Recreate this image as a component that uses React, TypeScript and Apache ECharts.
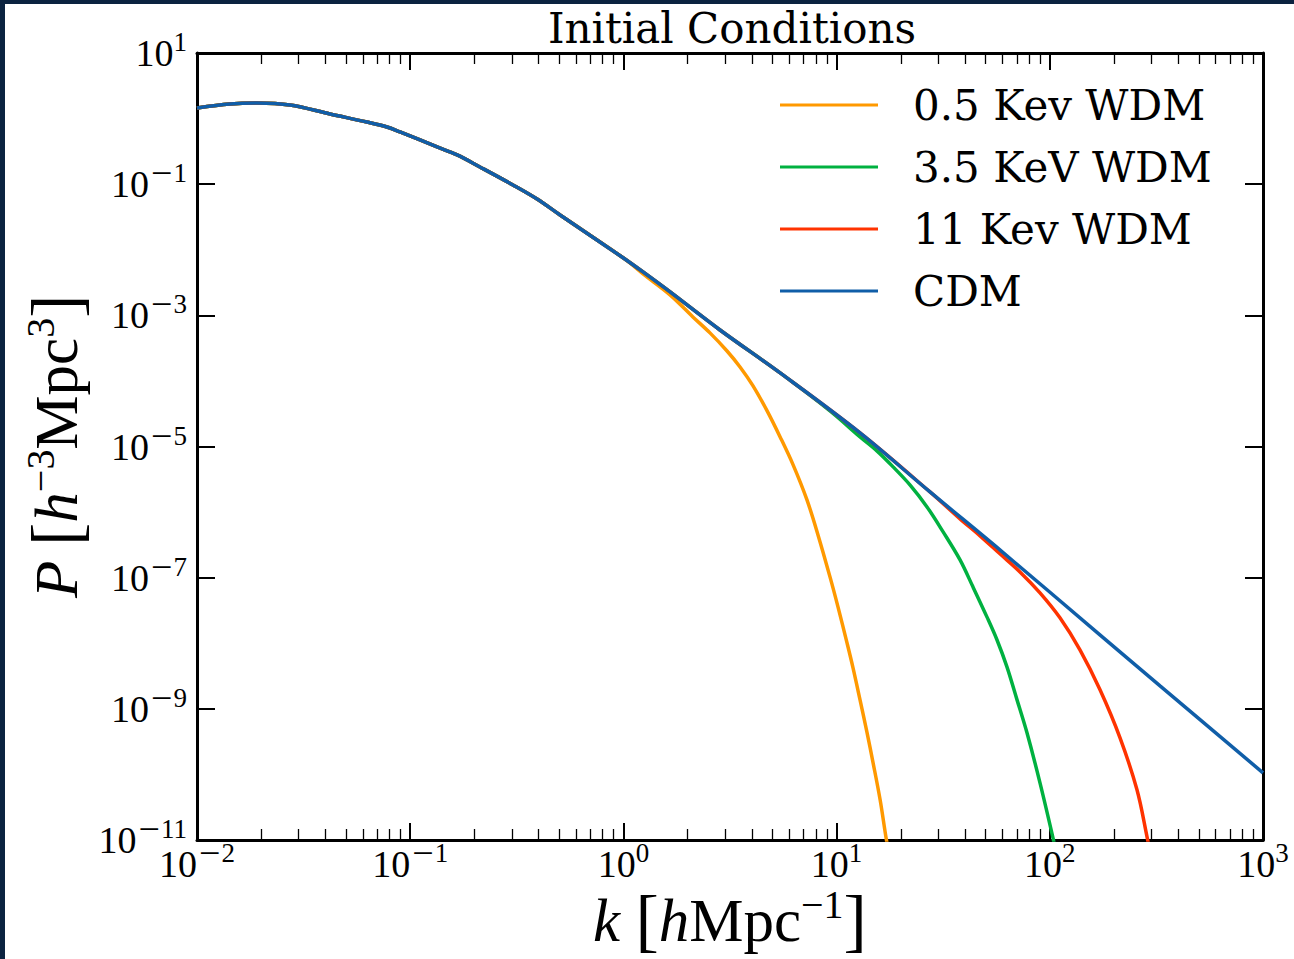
import React, { useEffect, useRef } from 'react';
import * as echarts from 'echarts';

// ---- data ----
const cdmK = [0.01, 0.01429, 0.0191, 0.02729, 0.04207, 0.06266, 0.0778, 0.08954, 0.1112, 0.1337, 0.166, 0.2123, 0.3034, 0.3936, 0.5047, 1.0, 1.236, 1.656, 2.838, 5.433, 12.88, 27.42, 58.34, 171.8, 328.9, 1000];
const cdmP = [1.452, 1.671, 1.73, 1.611, 1.175, 0.887, 0.745, 0.625, 0.472, 0.369, 0.279, 0.183, 0.0973, 0.0594, 0.0339, 0.0075, 4.59e-3, 0.002275, 5.98e-4, 1.324e-4, 1.611e-5, 2.03e-6, 2.655e-7, 1.343e-8, 2.244e-9, 1.057e-10];

const wdm05Split = 1.0;
const wdm05K = [1.236, 1.654, 2.118, 2.547, 3.062, 3.524, 4.055, 4.721, 5.433, 6.252, 7.261, 8.18, 9.311, 10.15, 11.19, 11.94, 12.88, 13.9, 14.83, 16.0, 17.06, 17.42];
const wdm05P = [4.28e-3, 2.05e-3, 9.46e-4, 5.4e-4, 2.86e-4, 1.633e-4, 8.39e-5, 3.49e-5, 1.4e-5, 5.25e-6, 1.535e-6, 4.49e-7, 1.028e-7, 3.59e-8, 1.014e-8, 4.22e-9, 1.371e-9, 4.31e-10, 1.503e-10, 4.1e-11, 1.081e-11, 7.6e-12];

const wdm35Split = 5.433;
const wdm35K = [9.31, 12.88, 15.45, 18.41, 22.08, 26.55, 31.6, 37.93, 43.6, 50.7, 56.5, 62.95, 70.2, 78.16, 89.95, 103.5, 105.7];
const wdm35P = [3.49e-5, 1.4e-5, 8.57e-6, 4.89e-6, 2.6e-6, 1.199e-6, 4.99e-7, 1.866e-7, 7.24e-8, 2.523e-8, 1.13e-8, 4.365e-9, 1.37e-9, 4.31e-10, 7.45e-11, 1.081e-11, 7.6e-12];

const wdm11Split = 27.42;
const wdm11K = [37.93, 47.07, 58.34, 72.47, 89.95, 111.6, 138.5, 172.0, 213.5, 256.4, 285.8, 291.7];
const wdm11P = [7.87e-7, 4.34e-7, 2.31e-7, 1.225e-7, 5.86e-8, 2.44e-8, 7.92e-9, 1.95e-9, 3.61e-10, 5.82e-11, 1.12e-11, 7.87e-12];

const seriesNames = ['0.5 Kev WDM', '3.5 KeV WDM', '11 Kev WDM', 'CDM'];
const seriesColors = ['#ff9900', '#00b140', '#ff3300', '#105ea8'];

const xMajor = [0.01, 0.1, 1, 10, 100, 1000];
const xMinorMult = [2, 3, 4, 5, 6, 7, 8, 9];
const yMajor = [1e-11, 1e-9, 1e-7, 1e-5, 1e-3, 1e-1, 10];

const titleText = 'Initial Conditions';

function joinCurve(splitK: number, tailK: number[], tailP: number[]) {
  const pts: number[][] = [];
  cdmK.forEach((k, i) => { if (k <= splitK) pts.push([k, cdmP[i]]); });
  tailK.forEach((k, i) => pts.push([k, tailP[i]]));
  return pts;
}

const tickFont = 'Liberation Serif';
const textFont = 'DejaVu Serif';

export default function App() {
  const ref = useRef<HTMLDivElement>(null);
  useEffect(() => {
    if (!ref.current) return;
    const chart = echarts.init(ref.current, null, { renderer: 'svg' });

    const xMinor: number[] = [];
    for (let i = 0; i < xMajor.length - 1; i++) xMinorMult.forEach((m) => xMinor.push(m * xMajor[i]));

    const tickRich = {
      b: { fontFamily: tickFont, fontSize: 38, lineHeight: 40, color: '#000' },
      m: { fontFamily: tickFont, fontSize: 38, lineHeight: 40, color: '#000', padding: [0, 1, 22, 2] },
      s: { fontFamily: tickFont, fontSize: 27, lineHeight: 40, color: '#000', padding: [0, 0, 22, 0] },
    };
    const fmt = (v: number) => {
      const e = Math.round(Math.log10(v));
      return e < 0 ? `{b|10}{m|\u2212}{s|${-e}}` : `{b|10}{s|${e}}`;
    };
    const nameRich = {
      i: { fontFamily: tickFont, fontSize: 61, fontStyle: 'italic', color: '#000' },
      r: { fontFamily: tickFont, fontSize: 61, color: '#000' },
      br: { fontFamily: tickFont, fontSize: 70, color: '#000' },
      s: { fontFamily: tickFont, fontSize: 40, color: '#000', padding: [0, 0, 32, 0] },
    };

    const baseX = { type: 'log', logBase: 10, min: 0.01, max: 1000, gridIndex: 0, splitLine: { show: false } };
    const baseY = { type: 'log', logBase: 10, min: 1e-11, max: 10, gridIndex: 0, splitLine: { show: false } };
    const line = { show: true, onZero: false, lineStyle: { color: '#000', width: 3 } };

    const series = [
      joinCurve(wdm05Split, wdm05K, wdm05P),
      joinCurve(wdm35Split, wdm35K, wdm35P),
      joinCurve(wdm11Split, wdm11K, wdm11P),
      cdmK.map((k, i) => [k, cdmP[i]]),
    ].map((data, i) => ({
      name: seriesNames[i],
      type: 'line',
      xAxisIndex: 0,
      yAxisIndex: 0,
      data,
      smooth: 0.35,
      symbol: 'none',
      showSymbol: false,
      clip: true,
      lineStyle: { color: seriesColors[i], width: 3.5 },
      itemStyle: { color: seriesColors[i] },
    }));

    chart.setOption({
      animation: false,
      backgroundColor: '#fff',
      title: {
        text: titleText,
        left: 727,
        top: 2,
        textAlign: 'center',
        textStyle: { fontFamily: textFont, fontSize: 42, fontWeight: 'normal', color: '#000' },
      },
      grid: { left: 197, right: 31, top: 53, bottom: 119, containLabel: false, outerBoundsMode: 'none' },
      legend: {
        data: seriesNames,
        orient: 'vertical',
        left: 780,
        top: 83,
        padding: 0,
        icon: 'rect',
        itemWidth: 98,
        itemHeight: 3,
        itemGap: 18,
        selectedMode: false,
        textStyle: { fontFamily: textFont, fontSize: 42, color: '#000', lineHeight: 44, padding: [0, 0, 0, 30] },
      },
      xAxis: [
        {
          ...baseX, position: 'bottom', axisLine: line,
          axisTick: { show: true, inside: true, length: 17, customValues: xMajor, lineStyle: { color: '#000', width: 2 } },
          axisLabel: { show: true, customValues: xMajor, formatter: fmt, rich: tickRich, margin: 4, fontFamily: tickFont, fontSize: 38 },
          name: '{i|k }{br|[}{i|h}{r|Mpc}{s|\u22121}{br|]}',
          nameLocation: 'middle', nameGap: 44, nameMoveOverlap: false,
          nameTextStyle: { rich: nameRich },
        },
        {
          ...baseX, position: 'bottom', axisLine: { show: false },
          axisTick: { show: true, inside: true, length: 11, customValues: xMinor, lineStyle: { color: '#000', width: 1.3 } },
          axisLabel: { show: false },
        },
        {
          ...baseX, position: 'top', axisLine: line,
          axisTick: { show: true, inside: true, length: 17, customValues: xMajor, lineStyle: { color: '#000', width: 2 } },
          axisLabel: { show: false },
        },
        {
          ...baseX, position: 'top', axisLine: { show: false },
          axisTick: { show: true, inside: true, length: 11, customValues: xMinor, lineStyle: { color: '#000', width: 1.3 } },
          axisLabel: { show: false },
        },
      ],
      yAxis: [
        {
          ...baseY, position: 'left', axisLine: line,
          axisTick: { show: true, inside: true, length: 18, customValues: yMajor, lineStyle: { color: '#000', width: 2 } },
          axisLabel: { show: true, customValues: yMajor, formatter: fmt, rich: tickRich, margin: 10, fontFamily: tickFont, fontSize: 38 },
          name: '{i|P }{br|[}{i|h}{s|\u22123}{r|Mpc}{s|3}{br|]}',
          nameLocation: 'middle', nameGap: 105, nameMoveOverlap: false,
          nameTextStyle: { rich: nameRich },
        },
        {
          ...baseY, position: 'right', axisLine: line,
          axisTick: { show: true, inside: true, length: 18, customValues: yMajor, lineStyle: { color: '#000', width: 2 } },
          axisLabel: { show: false },
        },
      ],
      graphic: [
        { type: 'rect', shape: { x: 0, y: 0, width: 1294, height: 4 }, style: { fill: '#0b2340' }, z: 100 },
        { type: 'rect', shape: { x: 0, y: 0, width: 5, height: 959 }, style: { fill: '#0b2340' }, z: 100 },
      ],
      series,
    });
    return () => chart.dispose();
  }, []);
  return <div ref={ref} style={{ position: 'fixed', left: 0, top: 0, width: 1294, height: 959, background: '#fff' }} />;
}
